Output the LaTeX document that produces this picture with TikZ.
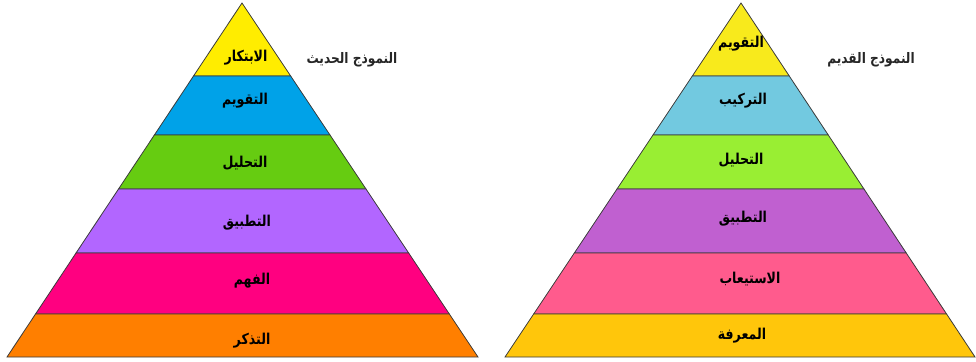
\documentclass[tikz,border=0pt]{standalone}
\usepackage{fontspec}
\usepackage{graphicx}
\usetikzlibrary{calc}
\TeXXeTstate=1
\newfontfamily\arabicfont[Script=Arabic]{DejaVu Sans}
\newcommand\artxt[1]{\scalebox{0.84}[1]{\beginR #1\endR}}
\definecolor{lA}{HTML}{FFED00}
\definecolor{lB}{HTML}{00A2E8}
\definecolor{lC}{HTML}{66CC11}
\definecolor{lD}{HTML}{B266FF}
\definecolor{lE}{HTML}{FF0080}
\definecolor{lF}{HTML}{FF7F00}
\definecolor{rA}{HTML}{F8EA1C}
\definecolor{rB}{HTML}{72C9E0}
\definecolor{rC}{HTML}{99EE33}
\definecolor{rD}{HTML}{C060D0}
\definecolor{rE}{HTML}{FF5B8D}
\definecolor{rF}{HTML}{FFC60B}
\definecolor{edge}{HTML}{3A3A3A}
\tikzset{
  band/.style={draw=edge, line width=0.8pt, line join=miter},
  lbl/.style={font=\arabicfont\bfseries\fontsize{15}{17}\selectfont, text=black, inner sep=0pt},
  ttl/.style={font=\arabicfont\bfseries\fontsize{14.5}{17}\selectfont, text=black!85, inner sep=0pt}
}
\begin{document}
\begin{tikzpicture}[x=1pt,y=-1pt]
\useasboundingbox (0,0) rectangle (976,361);
% left pyramid
\coordinate (LA) at (242,3);
\coordinate (LL) at (7,357);
\coordinate (LR) at (478,357);
\foreach \ta/\tb/\col in {0/0.2062/lA,0.2062/0.3729/lB,0.3729/0.5254/lC,0.5254/0.7062/lD,0.7062/0.8785/lE,0.8785/1/lF}
  \filldraw[band, fill=\col] ($(LA)!\ta!(LL)$) -- ($(LA)!\tb!(LL)$) -- ($(LA)!\tb!(LR)$) -- ($(LA)!\ta!(LR)$) -- cycle;
% right pyramid
\coordinate (RA) at (741,3);
\coordinate (RL) at (505,357);
\coordinate (RR) at (975,357);
\foreach \ta/\tb/\col in {0/0.2062/rA,0.2062/0.3729/rB,0.3729/0.5254/rC,0.5254/0.7062/rD,0.7062/0.8785/rE,0.8785/1/rF}
  \filldraw[band, fill=\col] ($(RA)!\ta!(RL)$) -- ($(RA)!\tb!(RL)$) -- ($(RA)!\tb!(RR)$) -- ($(RA)!\ta!(RR)$) -- cycle;
% left labels
\node[lbl] (l1) at (246,58) {\artxt{الابتكار}};
\node[lbl] (l2) at (245,101) {\artxt{التقويم}};
\node[lbl] (l3) at (245,163) {\artxt{التحليل}};
\node[lbl] (l4) at (247,223) {\artxt{التطبيق}};
\node[lbl] (l5) at (252,281) {\artxt{الفهم}};
\node[lbl] (l6) at (252,341) {\artxt{التذكر}};
\node[ttl] (lt) at (352,60) {\artxt{النموذج الحديث}};
% right labels
\node[lbl] (r1) at (741,44) {\artxt{التقويم}};
\node[lbl] (r2) at (743,101) {\artxt{التركيب}};
\node[lbl] (r3) at (741,160) {\artxt{التحليل}};
\node[lbl] (r4) at (743,219) {\artxt{التطبيق}};
\node[lbl] (r5) at (750,279) {\artxt{الاستيعاب}};
\node[lbl] (r6) at (742,336) {\artxt{المعرفة}};
\node[ttl] (rt) at (871,60) {\artxt{النموذج القديم}};
\end{tikzpicture}
\end{document}
